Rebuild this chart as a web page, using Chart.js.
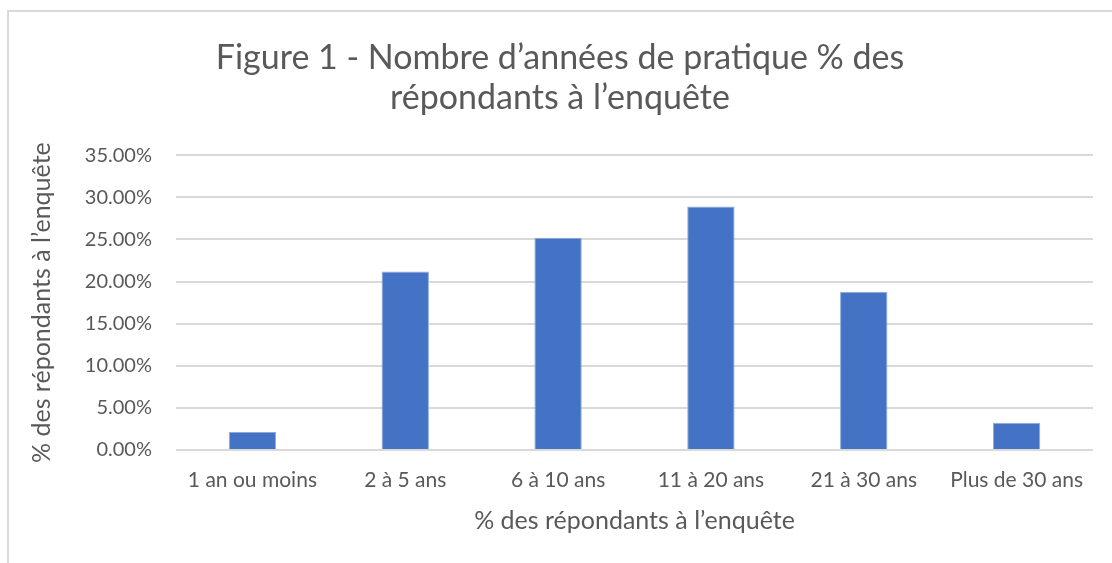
<!DOCTYPE html>
<html lang="fr">
<head>
    <meta charset="UTF-8">
    <title>Figure 1</title>
    <script src="https://cdn.jsdelivr.net/npm/chart.js"></script>
    <style>
        html, body {
            margin: 0;
            padding: 0;
            background: white;
            overflow: hidden;
        }
        .frame {
            position: absolute;
            left: 7px;
            top: 10px;
            width: 1200px;
            height: 600px;
            border-top: 2px solid #d9d9d9;
            border-left: 2px solid #d9d9d9;
        }
        .chart-box {
            position: absolute;
            left: 0;
            top: 0;
            width: 1112px;
            height: 563px;
        }
    </style>
</head>
<body>
    <div class="frame"></div>
    <div class="chart-box">
        <canvas id="barChart"></canvas>
    </div>

    <script>
        const categories = ["1 an ou moins", "2 à 5 ans", "6 à 10 ans", "11 à 20 ans", "21 à 30 ans", "Plus de 30 ans"];
        const percentValues = [2.14, 21.2, 25.2, 28.9, 18.8, 3.24];
        const yTicks = [0, 5, 10, 15, 20, 25, 30, 35];
        const titleLines = ["Figure 1 - Nombre d\u2019années de pratique % des", "répondants à l\u2019enquête"];
        const axisTitle = "% des répondants à l\u2019enquête";

        const textColor = "#595959";
        const fontName = "Lato, 'Open Sans', sans-serif";

        const barCtx = document.getElementById("barChart").getContext("2d");
        const barChart = new Chart(barCtx, {
            type: 'bar',
            data: {
                labels: categories,
                datasets: [{
                    label: axisTitle,
                    data: percentValues,
                    backgroundColor: "#4472c4",
                    borderColor: "#8faadc",
                    borderWidth: 1,
                    barPercentage: 0.31,
                    categoryPercentage: 1.0
                }]
            },
            options: {
                responsive: true,
                maintainAspectRatio: false,
                animation: false,
                layout: {
                    padding: { left: 27, right: 19, top: 0, bottom: 27 }
                },
                plugins: {
                    legend: { display: false },
                    tooltip: { enabled: false },
                    title: {
                        display: true,
                        text: titleLines,
                        color: textColor,
                        font: { family: fontName, size: 34, weight: 'normal', lineHeight: 1.18 },
                        padding: { top: 38, bottom: 37 }
                    }
                },
                scales: {
                    x: {
                        afterFit: (scale) => { scale.height = 86; },
                        grid: { display: false, drawTicks: false },
                        border: { display: false },
                        ticks: {
                            color: textColor,
                            font: { family: fontName, size: 21 },
                            padding: 18,
                            maxRotation: 0
                        },
                        title: {
                            display: true,
                            text: axisTitle,
                            color: textColor,
                            font: { family: fontName, size: 25 },
                            padding: { top: 0, bottom: 0 }
                        }
                    },
                    y: {
                        min: 0,
                        max: 35,
                        afterFit: (scale) => { scale.width = 149; },
                        afterBuildTicks: (scale) => {
                            scale.ticks = yTicks.map(v => ({ value: v }));
                        },
                        grid: {
                            color: "#d9d9d9",
                            lineWidth: 2,
                            drawTicks: false
                        },
                        border: { display: false },
                        ticks: {
                            color: textColor,
                            font: { family: fontName, size: 20 },
                            padding: 24,
                            callback: (v) => v.toFixed(2) + "%"
                        },
                        title: {
                            display: true,
                            text: axisTitle,
                            color: textColor,
                            font: { family: fontName, size: 25 },
                            padding: { top: 0, bottom: 0 }
                        }
                    }
                }
            }
        });
    </script>
</body>
</html>
